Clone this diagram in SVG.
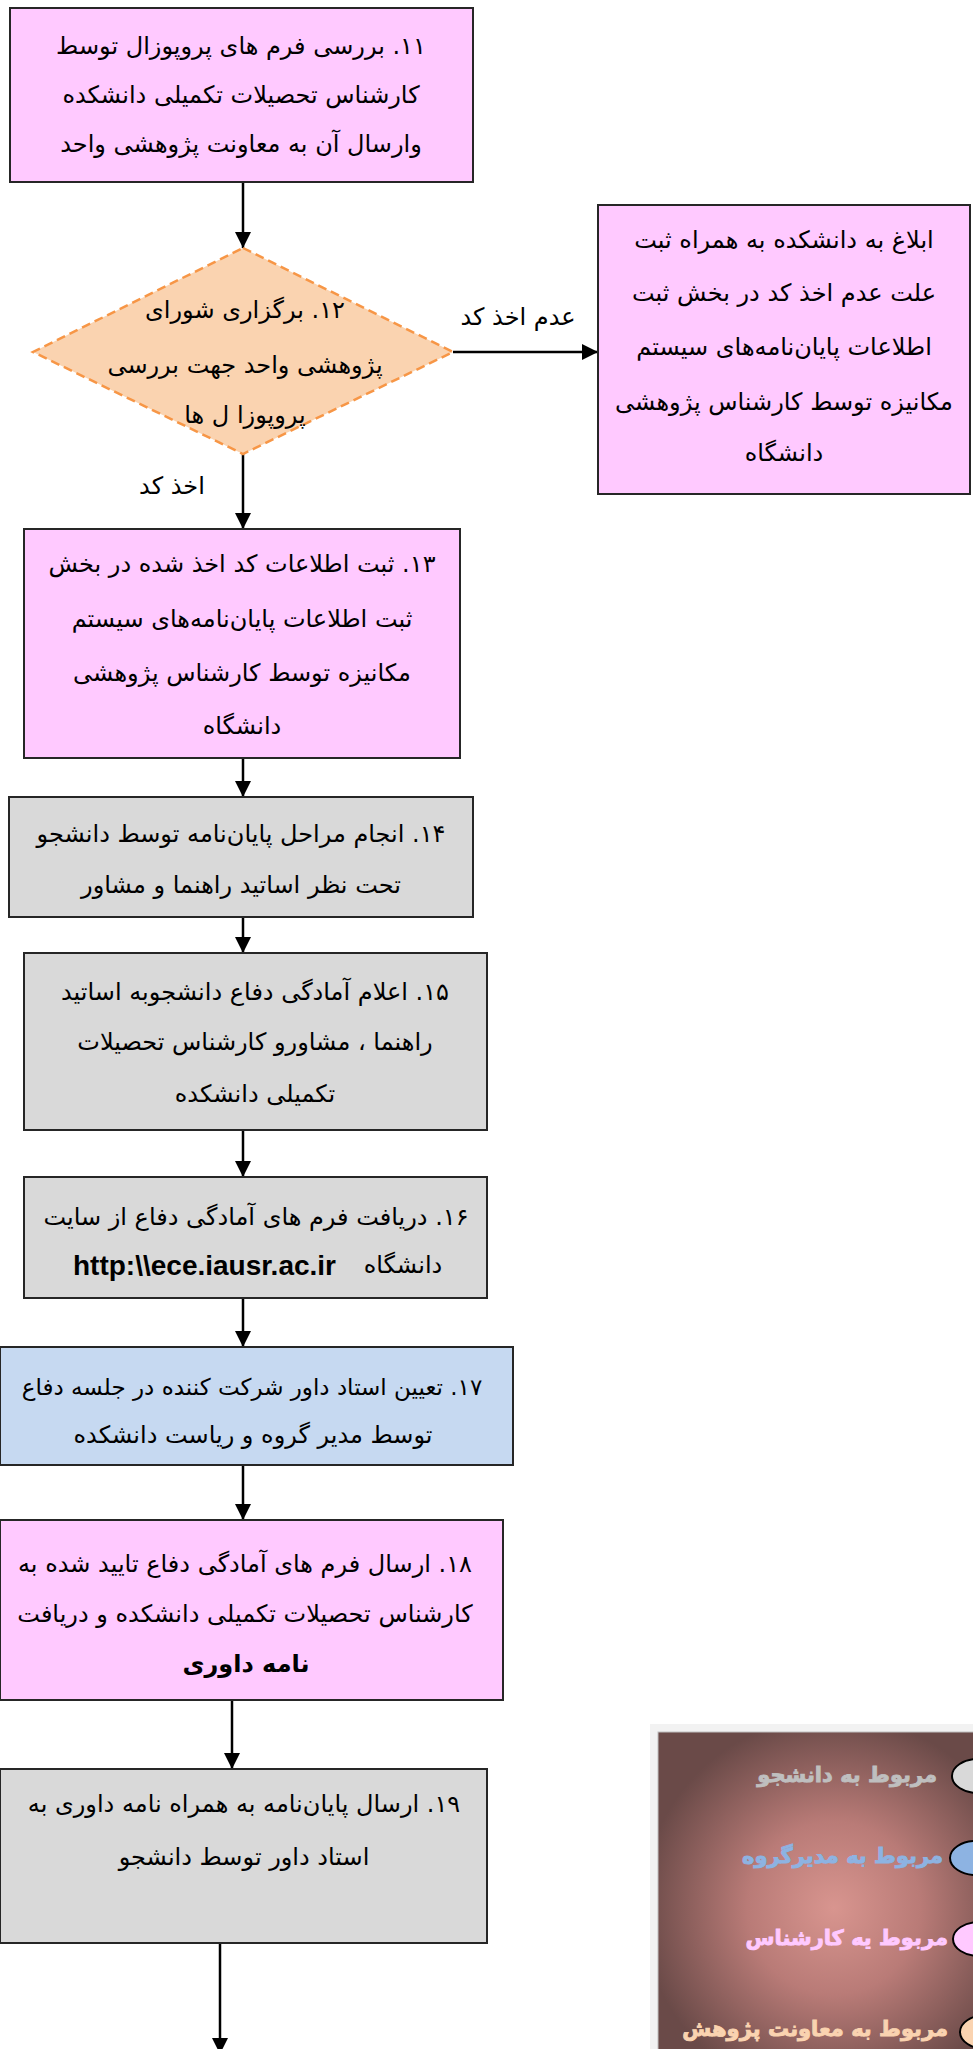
<svg xmlns="http://www.w3.org/2000/svg" width="973" height="2049" viewBox="0 0 973 2049">
<defs>
<style>
.box{stroke:#262626;stroke-width:2}
.pink{fill:#FFC9FF}
.gray{fill:#D9D9D9}
.blue{fill:#C6D9F1}
.t{font-family:"DejaVu Sans",sans-serif;font-size:24px;fill:#000;text-anchor:middle;direction:rtl}
.b{font-weight:bold}
.url{font-family:"Liberation Sans",sans-serif;font-size:28px;font-weight:bold;fill:#000}
.conn{stroke:#000;stroke-width:2.5;fill:none}
.lg{font-family:"DejaVu Sans",sans-serif;font-size:21px;font-weight:bold;text-anchor:start;direction:rtl;stroke-width:0.9}
.el{stroke:#000;stroke-width:2}
</style>
<marker id="ah" markerUnits="userSpaceOnUse" markerWidth="16" markerHeight="16" refX="16" refY="8" orient="auto">
<path d="M0,0 L16,8 L0,16 Z" fill="#000"/>
</marker>
<radialGradient id="lgbg" cx="0.55" cy="0.55" r="0.6">
<stop offset="0" stop-color="#D8958F"/>
<stop offset="0.45" stop-color="#B97B77"/>
<stop offset="1" stop-color="#6A4A48"/>
</radialGradient>
</defs>
<rect width="973" height="2049" fill="#fff"/>

<g id="connectors">
<line class="conn" x1="243" y1="182" x2="243" y2="248" marker-end="url(#ah)"/>
<line class="conn" x1="453" y1="352" x2="598" y2="352" marker-end="url(#ah)"/>
<line class="conn" x1="243" y1="454" x2="243" y2="529" marker-end="url(#ah)"/>
<line class="conn" x1="243" y1="758" x2="243" y2="797" marker-end="url(#ah)"/>
<line class="conn" x1="243" y1="917" x2="243" y2="953" marker-end="url(#ah)"/>
<line class="conn" x1="243" y1="1130" x2="243" y2="1177" marker-end="url(#ah)"/>
<line class="conn" x1="243" y1="1298" x2="243" y2="1347" marker-end="url(#ah)"/>
<line class="conn" x1="243" y1="1465" x2="243" y2="1520" marker-end="url(#ah)"/>
<line class="conn" x1="232" y1="1700" x2="232" y2="1769" marker-end="url(#ah)"/>
<line class="conn" x1="220" y1="1943" x2="220" y2="2054" marker-end="url(#ah)"/>
<text class="t" x="518" y="325">عدم اخذ کد</text>
<text class="t" x="172" y="494">اخذ کد</text>
</g>

<g id="n11">
<rect class="box pink" x="10" y="8" width="463" height="174"/>
<text class="t" x="241" y="54">۱۱. بررسی فرم های پروپوزال توسط</text>
<text class="t" x="241" y="103">کارشناس تحصیلات تکمیلی دانشکده</text>
<text class="t" x="241" y="152">وارسال آن به معاونت پژوهشی واحد</text>
</g>

<g id="n12">
<polygon points="243,248 453,352 243,454 33,352" fill="#FAD3B0" stroke="#F79646" stroke-width="2.5" stroke-dasharray="9,5"/>
<text class="t" x="245" y="318">۱۲. برگزاری شورای</text>
<text class="t" x="245" y="373">پژوهشی واحد جهت بررسی</text>
<text class="t" x="245" y="423">پروپوزا ل ها</text>
</g>

<g id="nReject">
<rect class="box pink" x="598" y="205" width="372" height="289"/>
<text class="t" x="784" y="248">ابلاغ به دانشکده به همراه ثبت</text>
<text class="t" x="784" y="301">علت عدم اخذ کد در بخش ثبت</text>
<text class="t" x="784" y="355">اطلاعات پایان‌نامه‌های سیستم</text>
<text class="t" x="784" y="410">مکانیزه توسط کارشناس پژوهشی</text>
<text class="t" x="784" y="461">دانشگاه</text>
</g>

<g id="n13">
<rect class="box pink" x="24" y="529" width="436" height="229"/>
<text class="t" x="242" y="572">۱۳. ثبت اطلاعات کد اخذ شده در بخش</text>
<text class="t" x="242" y="627">ثبت اطلاعات پایان‌نامه‌های سیستم</text>
<text class="t" x="242" y="681">مکانیزه توسط کارشناس پژوهشی</text>
<text class="t" x="242" y="734">دانشگاه</text>
</g>

<g id="n14">
<rect class="box gray" x="9" y="797" width="464" height="120"/>
<text class="t" x="241" y="842">۱۴. انجام مراحل پایان‌نامه توسط دانشجو</text>
<text class="t" x="241" y="893">تحت نظر اساتید راهنما و مشاور</text>
</g>

<g id="n15">
<rect class="box gray" x="24" y="953" width="463" height="177"/>
<text class="t" x="255" y="1000">۱۵. اعلام آمادگی دفاع دانشجوبه اساتید</text>
<text class="t" x="255" y="1050">راهنما ، مشاورو کارشناس تحصیلات</text>
<text class="t" x="255" y="1102">تکمیلی دانشکده</text>
</g>

<g id="n16">
<rect class="box gray" x="24" y="1177" width="463" height="121"/>
<text class="t" x="256" y="1225">۱۶. دریافت فرم های آمادگی دفاع از سایت</text>
<text class="t" x="403" y="1273">دانشگاه</text>
<text class="url" x="73" y="1275">http:\\ece.iausr.ac.ir</text>
</g>

<g id="n17">
<rect class="box blue" x="0" y="1347" width="513" height="118"/>
<text class="t" x="252" y="1395" style="font-size:23px">۱۷. تعیین استاد داور شرکت کننده در جلسه دفاع</text>
<text class="t" x="253" y="1443">توسط مدیر گروه و ریاست دانشکده</text>
</g>

<g id="n18">
<rect class="box pink" x="0" y="1520" width="503" height="180"/>
<text class="t" x="245" y="1572">۱۸. ارسال فرم های آمادگی دفاع تایید شده به</text>
<text class="t" x="245" y="1622">کارشناس تحصیلات تکمیلی دانشکده و دریافت</text>
<text class="t b" x="246" y="1672">نامه داوری</text>
</g>

<g id="n19">
<rect class="box gray" x="0" y="1769" width="487" height="174"/>
<text class="t" x="244" y="1812">۱۹. ارسال پایان‌نامه به همراه نامه داوری به</text>
<text class="t" x="244" y="1865">استاد داور توسط دانشجو</text>
</g>

<g id="legend">
<rect x="650" y="1724" width="330" height="330" fill="#F2F2F2"/>
<rect x="658" y="1732" width="320" height="320" fill="url(#lgbg)" stroke="#BFBFBF" stroke-width="1"/>
<ellipse class="el" cx="978" cy="1776" rx="26" ry="17" fill="#D9D9D9"/>
<text class="lg" x="937" y="1782" fill="#BFBFBF" stroke="#BFBFBF">مربوط به دانشجو</text>
<ellipse class="el" cx="976" cy="1858" rx="26" ry="17" fill="#8DB3E2"/>
<text class="lg" x="943" y="1863" fill="#8DB3E2" stroke="#8DB3E2">مربوط به مدیرگروه</text>
<ellipse class="el" cx="979" cy="1939" rx="26" ry="17" fill="#FFC9FF"/>
<text class="lg" x="948" y="1945" fill="#FFC9FF" stroke="#FFC9FF">مربوط یه کارشناس</text>
<ellipse class="el" cx="986" cy="2032" rx="26" ry="17" fill="#FAD3B0"/>
<text class="lg" x="948" y="2036" fill="#FAD3B0" stroke="#FAD3B0">مربوط به معاونت پژوهش</text>
</g>
</svg>
